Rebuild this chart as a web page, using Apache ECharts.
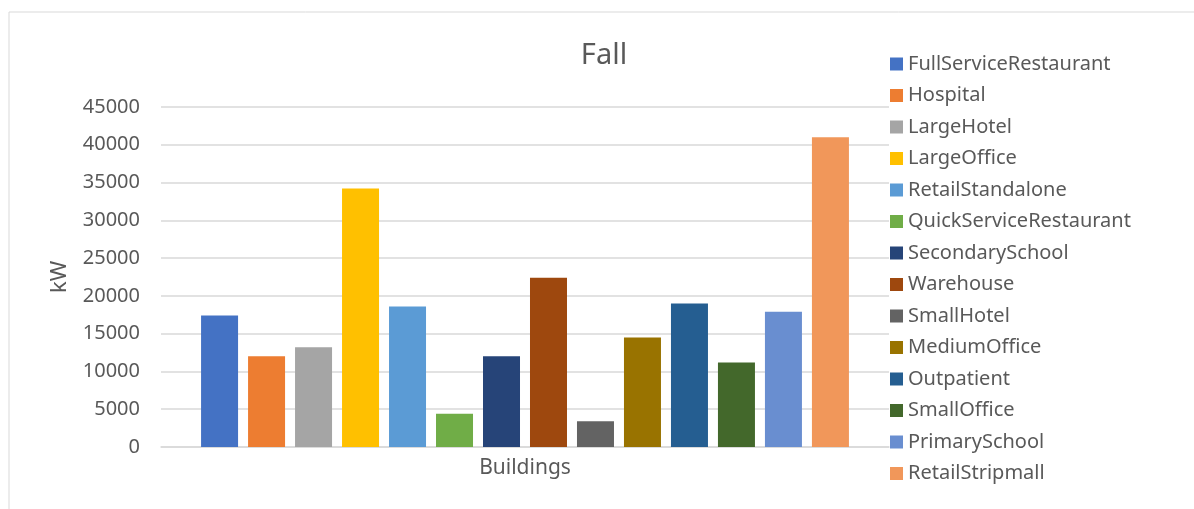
<!DOCTYPE html>
<html>
<head>
<meta charset="utf-8">
<title>Fall</title>
<script src="https://cdn.jsdelivr.net/npm/echarts@6/dist/echarts.min.js"></script>
<style>
  html, body { margin: 0; padding: 0; background: #fff; }
  #chart { width: 1194px; height: 509px; }
</style>
</head>
<body>
<div id="chart"></div>
<script>
// one category on the x axis, one bar per building type
const categories = ['']
const buildings = [
  'FullServiceRestaurant', 'Hospital', 'LargeHotel', 'LargeOffice',
  'RetailStandalone', 'QuickServiceRestaurant', 'SecondarySchool', 'Warehouse',
  'SmallHotel', 'MediumOffice', 'Outpatient', 'SmallOffice',
  'PrimarySchool', 'RetailStripmall'
]
const loadKW = [17400, 12000, 13200, 34200, 18600, 4400, 12000, 22400, 3400, 14500, 19000, 11200, 17900, 41000]
const colors = [
  '#4472C4', '#ED7D31', '#A5A5A5', '#FFC000', '#5B9BD5', '#70AD47', '#264478',
  '#9E480E', '#636363', '#997300', '#255E91', '#43682B', '#698ED0', '#F1975A'
]

const FONT = '"Noto Sans", "Open Sans", sans-serif'
const TEXT = '#595959'

const chart = echarts.init(document.getElementById('chart'))

chart.setOption({
  animation: false,
  color: colors,
  textStyle: { fontFamily: FONT },
  title: {
    text: 'Fall',
    left: 599,
    textAlign: 'center',
    top: 36,
    textStyle: { fontFamily: FONT, fontSize: 29, fontWeight: 'normal', color: TEXT }
  },
  // the chart frame, only its left and top edges are inside the picture
  graphic: [{
    type: 'rect',
    shape: { x: 9, y: 12, width: 1400, height: 800 },
    style: { fill: 'none', stroke: '#d9d9d9', lineWidth: 1 },
    silent: true
  }],
  legend: {
    orient: 'vertical',
    left: 885,
    top: 49,
    icon: 'rect',
    itemWidth: 13,
    itemHeight: 13,
    itemGap: 11.5,
    textStyle: { fontFamily: FONT, fontSize: 20, color: TEXT, lineHeight: 20 },
    data: buildings
  },
  grid: { left: 161, right: 1194 - 889, top: 107, bottom: 509 - 447, containLabel: false },
  xAxis: {
    type: 'category',
    data: categories,
    name: 'Buildings',
    nameLocation: 'middle',
    nameGap: 11,
    nameTextStyle: { fontFamily: FONT, fontSize: 21, color: TEXT },
    axisLine: { lineStyle: { color: '#d9d9d9', width: 1.5 } },
    axisTick: { show: false },
    axisLabel: { show: false }
  },
  yAxis: {
    type: 'value',
    min: 0,
    max: 45000,
    interval: 5000,
    name: 'kW',
    nameLocation: 'middle',
    nameRotate: 90,
    nameGap: 90,
    nameTextStyle: { fontFamily: FONT, fontSize: 22, color: TEXT },
    axisLine: { show: false },
    axisTick: { show: false },
    axisLabel: { margin: 21, fontFamily: FONT, fontSize: 20, color: TEXT, formatter: v => String(v) },
    splitLine: { lineStyle: { color: '#d9d9d9', width: 1.5 } }
  },
  series: buildings.map((name, i) => ({
    name: name,
    type: 'bar',
    barWidth: 37,
    barGap: '27%',
    data: [loadKW[i]]
  }))
})
</script>
</body>
</html>
